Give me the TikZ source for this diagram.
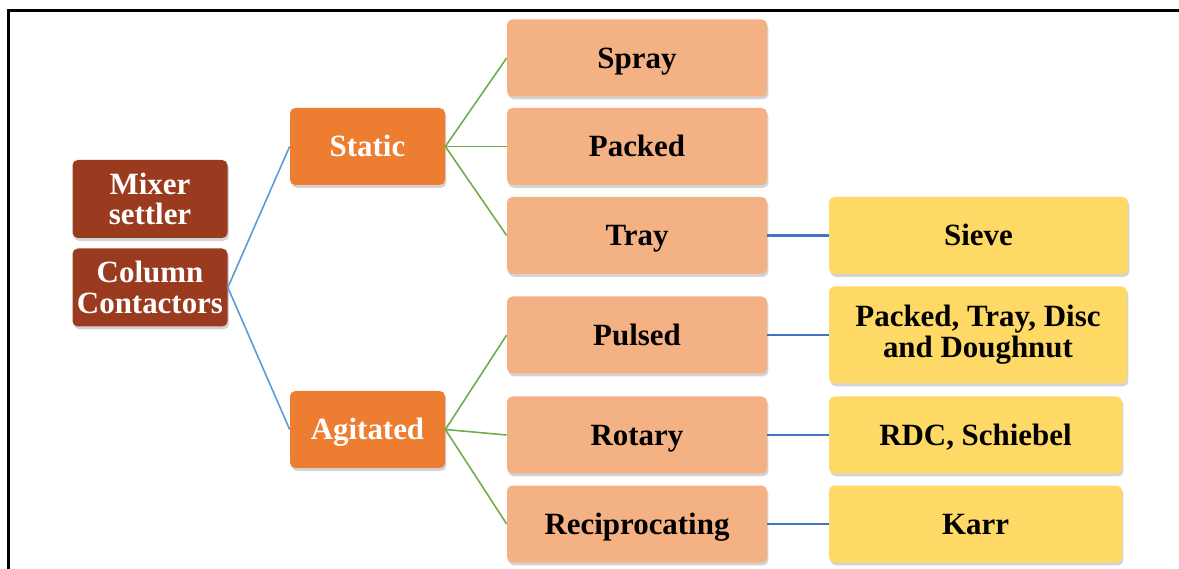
\documentclass[tikz,border=0pt]{standalone}
\usepackage{fontspec}
\setmainfont{Liberation Serif}
\usepackage{tikz}
\usetikzlibrary{shadows}
\definecolor{ruggine}{HTML}{9A3B1F}
\definecolor{arancio}{HTML}{ED7D31}
\definecolor{pesca}{HTML}{F4B183}
\definecolor{giallo}{HTML}{FFD966}
\definecolor{verde}{HTML}{70AD47}
\definecolor{azzurro}{HTML}{5B9BD5}
\definecolor{blu}{HTML}{4472C4}

\begin{document}
\begin{tikzpicture}[
    box/.style={rounded corners=3pt,align=center,inner sep=0pt,
      font=\fontsize{17.6}{17.5}\selectfont\bfseries,
      drop shadow={shadow xshift=0.8pt,shadow yshift=-1.6pt,opacity=0.35}},
    uno/.style={text height=11.6pt,text depth=0pt},
    radice/.style={box,fill=ruggine,text=white,minimum width=3.1cm,minimum height=1.56cm},
    ramo/.style={box,uno,fill=arancio,text=white,minimum width=3.1cm,minimum height=1.54cm},
    foglia/.style={box,uno,fill=pesca,minimum width=5.2cm,minimum height=1.54cm},
    punta/.style={box,fill=giallo,minimum height=1.54cm}]
  \useasboundingbox (0,0) rectangle (23.58,-11.38);
  \draw[line width=1.2pt] (0.17,-11.38) -- (0.17,-0.21) -- (23.58,-0.21);

  \node[radice] (mix) at (3.0,-3.98) {Mixer\\settler};
  \node[radice] (col) at (3.0,-5.75) {Column\\Contactors};

  \node[ramo] (sta) at (7.35,-2.93) {Static};
  \node[ramo] (agi) at (7.35,-8.59) {Agitated};

  \node[foglia] (spr) at (12.74,-1.16) {Spray};
  \node[foglia] (pac) at (12.74,-2.93) {Packed};
  \node[foglia] (tra) at (12.74,-4.71) {Tray};
  \node[foglia] (pul) at (12.74,-6.70) {Pulsed};
  \node[foglia] (rot) at (12.74,-8.70) {Rotary};
  \node[foglia] (rec) at (12.74,-10.48) {Reciprocating};

  \node[punta,uno,minimum width=5.98cm] (sie) at (19.57,-4.71) {Sieve};
  \node[punta,minimum width=5.96cm,minimum height=1.94cm] (ptd) at (19.56,-6.70) {Packed, Tray, Disc\\and Doughnut};
  \node[punta,uno,minimum width=5.86cm] (rdc) at (19.51,-8.70) {RDC, Schiebel};
  \node[punta,uno,minimum width=5.86cm] (kar) at (19.51,-10.48) {Karr};

  \draw[azzurro,line width=0.9pt] (sta.west) -- (col.east) -- (agi.west);
  \foreach \f in {spr,pac,tra} \draw[verde,line width=0.9pt] (sta.east) -- (\f.west);
  \foreach \f in {pul,rot,rec} \draw[verde,line width=0.9pt] (agi.east) -- (\f.west);
  \draw[blu,line width=1.3pt] (tra.east) -- (sie.west);
  \draw[blu,line width=1.3pt] (pul.east) -- (ptd.west);
  \draw[blu,line width=1.3pt] (rot.east) -- (rdc.west);
  \draw[blu,line width=1.3pt] (rec.east) -- (kar.west);
\end{tikzpicture}
\end{document}
